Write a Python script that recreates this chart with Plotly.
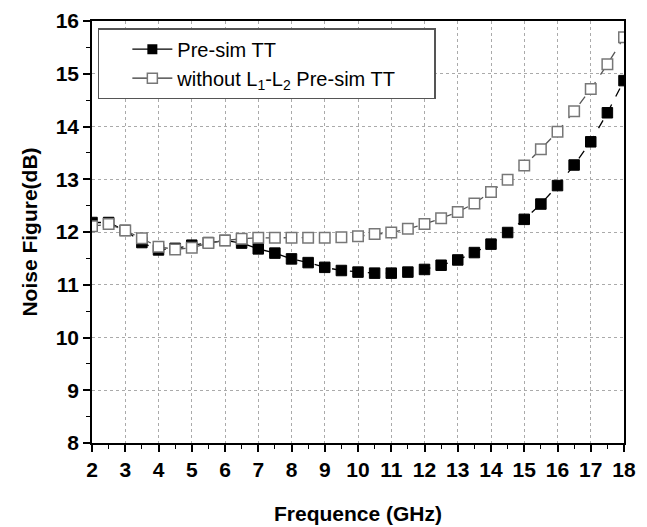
import plotly.graph_objects as go

freq = [2 + 0.5 * i for i in range(33)]
nf_presim = [12.18, 12.18, 12.03, 11.80, 11.66, 11.69, 11.75, 11.80, 11.84, 11.79,
             11.68, 11.60, 11.49, 11.42, 11.33, 11.27, 11.24, 11.22, 11.22, 11.24,
             11.29, 11.37, 11.47, 11.61, 11.77, 11.99, 12.24, 12.53, 12.88, 13.27,
             13.71, 14.26, 14.87]
nf_without = [12.11, 12.15, 12.03, 11.88, 11.72, 11.67, 11.70, 11.79, 11.84, 11.87,
              11.89, 11.89, 11.89, 11.89, 11.89, 11.90, 11.92, 11.96, 11.99, 12.06,
              12.15, 12.26, 12.38, 12.54, 12.76, 12.99, 13.26, 13.57, 13.90, 14.29,
              14.71, 15.18, 15.69]
names = ["Pre-sim TT", "without L<sub>1</sub>-L<sub>2</sub> Pre-sim TT"]
x_ticks = list(range(2, 19))
y_ticks = list(range(8, 17))

FONT = "Liberation Sans, Arial"
PAD = "&nbsp;" * 6  # trailing space so the legend box reaches its reference width

fig = go.Figure()
# data traces (dashed connecting lines)
fig.add_trace(go.Scatter(
    x=freq, y=nf_presim, mode="lines+markers", showlegend=False,
    line=dict(color="black", width=1.3, dash="dash"),
    marker=dict(symbol="square", size=10.5, color="black", line=dict(color="black", width=1))))
fig.add_trace(go.Scatter(
    x=freq, y=nf_without, mode="lines+markers", showlegend=False,
    line=dict(color="#555555", width=1.3, dash="dash"),
    marker=dict(symbol="square", size=10.5, color="white", line=dict(color="#777777", width=1.5))))
# legend entries with solid lines
fig.add_trace(go.Scatter(
    x=[None], y=[None], mode="lines+markers", name=names[0],
    line=dict(color="black", width=1.3),
    marker=dict(symbol="square", size=10, color="black")))
fig.add_trace(go.Scatter(
    x=[None], y=[None], mode="lines+markers", name=names[1] + PAD,
    line=dict(color="#333333", width=1.3),
    marker=dict(symbol="square", size=10, color="white", line=dict(color="#777777", width=1.5))))

axis_common = dict(
    showline=True, linecolor="black", linewidth=1.5, mirror=True,
    ticks="outside", ticklen=7, tickwidth=1.5, tickcolor="black",
    showgrid=True, gridcolor="#aaaaaa", gridwidth=1, griddash="dot",
    zeroline=False, automargin=False,
    tickfont=dict(family=FONT, size=21, color="black", weight="bold"),
    minor=dict(ticks="outside", ticklen=4, tickwidth=1.2, tickcolor="black", showgrid=False),
)

fig.update_layout(
    width=647, height=527,
    margin=dict(l=92, r=23, t=21, b=84),
    paper_bgcolor="white", plot_bgcolor="white",
    font=dict(family=FONT, color="black"),
    xaxis=dict(range=[2, 18], tickvals=x_ticks, ticktext=[str(v) for v in x_ticks],
               title=dict(text="Frequence (GHz)", standoff=26,
                          font=dict(size=21, weight="bold", family=FONT)),
               **{**axis_common, "minor": dict(axis_common["minor"], dtick=0.5, tick0=2)}),
    yaxis=dict(range=[8, 16], tickvals=y_ticks, ticktext=[str(v) for v in y_ticks],
               title=dict(text="Noise Figure(dB)", standoff=12,
                          font=dict(size=21, weight="bold", family=FONT)),
               **{**axis_common, "minor": dict(axis_common["minor"], dtick=0.5, tick0=8)}),
    legend=dict(x=0.011, y=0.983, xanchor="left", yanchor="top",
                bgcolor="white", bordercolor="#555555", borderwidth=1.5,
                indentation=28,
                font=dict(size=20, family=FONT, color="black"),
                itemwidth=40, tracegroupgap=0),
)

fig.write_html("out.html")
